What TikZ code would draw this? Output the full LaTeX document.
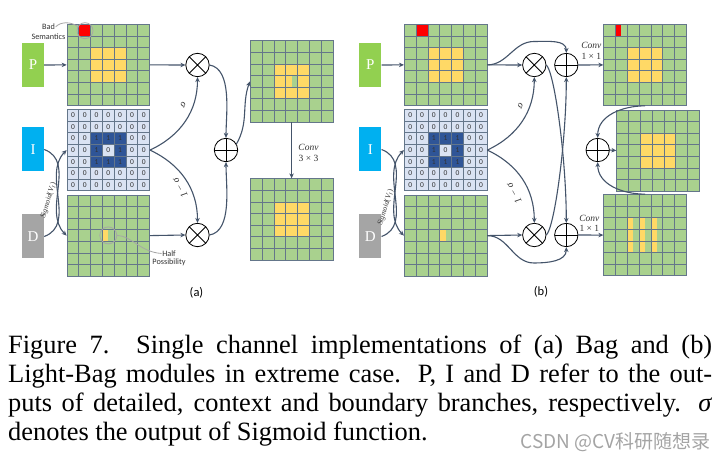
\documentclass[tikz,border=0pt]{standalone}
\usepackage{fontspec}
\setmainfont{Liberation Serif}
\newfontfamily\carl{Carlito}
\newfontfamily\cjkf{Noto Sans CJK SC}
\usetikzlibrary{arrows.meta}
\definecolor{boxP}{HTML}{92D050}
\definecolor{boxI}{HTML}{00B0F0}
\definecolor{boxD}{HTML}{A5A5A5}
\definecolor{cellG}{HTML}{A9D18E}
\definecolor{cellY}{HTML}{FFD966}
\definecolor{cellR}{HTML}{FF0000}
\definecolor{cellL}{HTML}{DAE3F3}
\definecolor{cellB}{HTML}{2F5597}
\definecolor{gridc}{HTML}{64768A}
\definecolor{arrc}{HTML}{44546A}
\definecolor{annc}{HTML}{A6A6A6}
\definecolor{wmc}{HTML}{A4A4A4}
\definecolor{txtc}{HTML}{333333}
\tikzset{
  gl/.style={draw=gridc, line width=0.7pt},
  gridnode/.style={minimum width=82.6pt, minimum height=81.2pt, inner sep=0pt, draw=gridc, line width=0.7pt},
  conn/.style={draw=arrc, line width=1.1pt},
  arr/.style={conn, -{Stealth[length=5pt,width=4.5pt]}},
  box/.style={minimum width=22pt, minimum height=44pt, inner sep=0pt, text=white, font=\fontsize{15}{15}\selectfont},
  op/.style={circle, draw=black, line width=0.8pt, minimum size=23.4pt, inner sep=0pt, fill=white},
  otimes/.style={op, path picture={\draw[black,line width=0.8pt] (path picture bounding box.north west) -- (path picture bounding box.south east) (path picture bounding box.north east) -- (path picture bounding box.south west);}},
  oplus/.style={op, path picture={\draw[black,line width=0.8pt] (path picture bounding box.north) -- (path picture bounding box.south) (path picture bounding box.east) -- (path picture bounding box.west);}},
  numf/.style={inner sep=0pt, text=txtc, font=\carl\fontsize{7.5}{7.5}\selectfont},
  lbl/.style={inner sep=0.5pt, text=txtc, font=\carl\fontsize{8.2}{8.2}\selectfont},
  anncirc/.style={circle, draw=annc, line width=0.8pt, minimum size=16pt, inner sep=0pt},
  anno/.style={draw=annc, line width=0.8pt},
  panel/.style={inner sep=0pt, font=\carl\fontsize{12.5}{12.5}\selectfont},
  convf/.style={inner sep=0pt, align=center, text=txtc, font=\fontsize{9.5}{10.5}\selectfont},
  sigf/.style={inner sep=0pt, text=txtc, font=\fontsize{10}{10}\selectfont\itshape},
  sgf/.style={inner sep=0pt, text=txtc, font=\fontsize{7.5}{7.5}\selectfont},
  capf/.style={anchor=base west, inner sep=0pt, font=\fontsize{26.4}{29}\selectfont},
}
\newcommand\mygrid[5]{%
  \begin{scope}[shift={(#2,#3)},x=11.8pt,y=-11.6pt]
    \fill[#4] (0,0) rectangle (7,7);
    #5
    \foreach \ii in {1,...,6}{\draw[gl] (\ii,0) -- (\ii,7); \draw[gl] (0,\ii) -- (7,\ii);}
    \node[gridnode] (#1) at (3.5,3.5) {};
  \end{scope}}
\newcommand\igridfill{%
  \fill[cellB] (2,2) rectangle (5,5); \fill[cellL] (3,3) rectangle (4,4);
  \foreach \rr in {0,...,6}{\foreach \cc in {0,...,6}{%
    \pgfmathtruncatemacro\numv{(\cc>1)*(\cc<5)*(\rr>1)*(\rr<5)*(1-(\cc==3)*(\rr==3))}%
    \node[numf] at (\cc+0.5,\rr+0.5) {\numv};}}}
\begin{document}
\begin{tikzpicture}[x=1pt,y=1pt]
\useasboundingbox (0,0) rectangle (728,461);
\fill[white] (0,0) rectangle (728,461);

% ---------- panel (a) ----------
\node[box,fill=boxP] (Pa) at (33,396) {P};
\node[box,fill=boxI] (Ia) at (33,311.5) {I};
\node[box,fill=boxD] (Da) at (33,224.5) {D};

\mygrid{PGa}{67}{436.7}{cellG}{\fill[cellR] (1,0) rectangle (2,1); \fill[cellY] (2,2) rectangle (5,5);}
\mygrid{IGa}{67}{351.5}{cellL}{\igridfill}
\mygrid{DGa}{67}{266}{cellG}{\fill[cellY] (3,3) rectangle (3.5,4);}
\mygrid{oTa}{250.3}{420.3}{cellG}{\fill[cellY] (2,2) rectangle (5,5); \fill[cellG] (3.5,3) rectangle (4,4);}
\mygrid{oBa}{250.3}{282.3}{cellG}{\fill[cellY] (2,2) rectangle (5,5);}

\node[otimes] (m1a) at (197.5,396) {};
\node[oplus] (pla) at (226,311) {};
\node[otimes] (m2a) at (197.5,226) {};

\node[anncirc] (badc) at (85,430.3) {};
\node[lbl] (bad) at (48.5,434) {Bad};
\node[lbl] (sem) at (48.5,424) {Semantics};
\draw[anno] (bad.east) .. controls (60,439) and (70,440) .. (badc.150);
\node[anncirc, minimum size=17pt] (halfc) at (108.3,225.6) {};
\node[lbl] (half) at (169,207.5) {Half};
\node[lbl] (poss) at (169,198.2) {Possibility};
\draw[anno] (halfc.east) .. controls (132,225) and (140,209) .. (half.west);

\draw[arr] (Pa.east) -- (PGa.west);
\draw[arr] (Ia.east) to[out=-20,in=135] (DGa.west);
\draw[arr] (Da.east) to[out=20,in=225] (IGa.west);
\draw[arr] (PGa.east) -- (m1a.west);
\draw[arr] (DGa.east) -- (m2a.west);
\draw[arr] (IGa.east) to[out=25,in=-90] (m1a.south);
\draw[arr] (IGa.east) to[out=-25,in=90] (m2a.north);
\draw[arr] (m1a.east) to[out=-10,in=90,looseness=0.8] (pla.north);
\draw[arr] (m2a.east) to[out=10,in=-90,looseness=0.8] (pla.south);
\draw[arr] (pla.30) to[out=60,in=250] (oTa.west);
\draw[arr] (oTa.south) -- (oBa.north);

\node[sigf, rotate=-120] (sa1) at (183.3,356) {σ};
\node[sigf, rotate=119] (sa2) at (180,273) {1 − σ};
\node[sgf, rotate=73] (sga) at (48.5,260.5) {\textit{Sigmoid}(\textit{V}\textsubscript{\textit{I}})};
\node[convf] (cva) at (308.5,308) {\textit{Conv}\\3 × 3};
\node[panel] (la) at (196.5,168.5) {(a)};

% ---------- panel (b) ----------
\node[box,fill=boxP] (Pb) at (370.3,396) {P};
\node[box,fill=boxI] (Ib) at (370.3,311.5) {I};
\node[box,fill=boxD] (Db) at (370.3,224.5) {D};

\mygrid{PGb}{404.3}{436.7}{cellG}{\fill[cellR] (1,0) rectangle (2,1); \fill[cellY] (2,2) rectangle (5,5);}
\mygrid{IGb}{404.3}{351.5}{cellL}{\igridfill}
\mygrid{DGb}{404.3}{266}{cellG}{\fill[cellY] (3,3) rectangle (3.5,4);}
\mygrid{oTb}{603.7}{436.7}{cellG}{\fill[cellR] (1,0) rectangle (1.5,1); \fill[cellY] (2,2) rectangle (5,5);}
\mygrid{oMb}{616.7}{351}{cellG}{\fill[cellY] (2,2) rectangle (5,5);}
\mygrid{oBb}{603.7}{266.5}{cellG}{\fill[cellY] (2,2) rectangle (2.5,5); \fill[cellY] (3,2) rectangle (3.5,5); \fill[cellY] (4,2) rectangle (4.5,5);}

\node[otimes] (m1b) at (534.3,396) {};
\node[oplus] (p1b) at (566.3,396) {};
\node[otimes] (m2b) at (534.3,226) {};
\node[oplus] (p2b) at (566.3,226) {};
\node[oplus] (pmb) at (597.7,311) {};
\coordinate (apT) at (534,419.5);
\coordinate (apB) at (534,198);

\draw[arr] (Pb.east) -- (PGb.west);
\draw[arr] (Ib.east) to[out=-20,in=135] (DGb.west);
\draw[arr] (Db.east) to[out=20,in=225] (IGb.west);
\draw[arr] (PGb.east) -- (m1b.west);
\draw[arr] (PGb.east) to[out=0,in=180] (apT) to[out=0,in=90] (p1b.north);
\draw[arr] (DGb.east) -- (m2b.west);
\draw[arr] (DGb.east) to[out=0,in=180] (apB) to[out=0,in=-90] (p2b.south);
\draw[arr] (IGb.east) to[out=25,in=-90] (m1b.south);
\draw[arr] (IGb.east) to[out=-25,in=90] (m2b.north);
\draw[arr] (m1b.east) .. controls (555,387) and (566.3,300) .. (p2b.north);
\draw[arr] (m2b.east) .. controls (555,235) and (566.3,322) .. (p1b.south);
\draw[arr] (p1b.east) -- (oTb.west);
\draw[arr] (p2b.east) -- (oBb.west);
\draw[arr] (oTb.south) to[out=180,in=90] (pmb.north);
\draw[arr] (oBb.north) to[out=180,in=-90] (pmb.south);
\draw[arr] (pmb.east) -- (oMb.west);

\node[sigf, rotate=-120] (sb1) at (520.7,355) {σ};
\node[sigf, rotate=119] (sb2) at (514,267.7) {1 − σ};
\node[sgf, rotate=73] (sgb) at (385.7,253.5) {\textit{Sigmoid}(\textit{V}\textsubscript{\textit{I}})};
\node[convf] (cvb1) at (591.3,410) {\textit{Conv}\\1 × 1};
\node[convf] (cvb2) at (589.3,237.5) {\textit{Conv}\\1 × 1};
\node[panel] (lb) at (541,169.5) {(b)};

% ---------- caption ----------
\node[capf] (c1) at (8,108) {\makebox[704pt][s]{Figure 7.  Single channel implementations of (a) Bag and (b)}};
\node[capf] (c2) at (8,79) {\makebox[704pt][s]{Light-Bag modules in extreme case.  P, I and D refer to the out-}};
\node[capf] (c3) at (8,50) {\makebox[704pt][s]{puts of detailed, context and boundary branches, respectively.  \textit{σ}}};
\node[capf] (c4) at (8,21) {denotes the output of Sigmoid function.};
\node[anchor=base east, inner sep=0pt, text=wmc, font=\cjkf\fontsize{19}{19}\selectfont] (wm) at (711,13) {CSDN @CV科研随想录};
\end{tikzpicture}
\end{document}
